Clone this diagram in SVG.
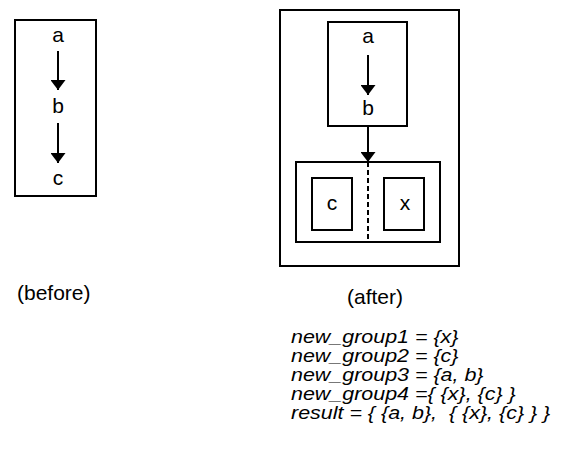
<svg xmlns="http://www.w3.org/2000/svg" width="571" height="454" viewBox="0 0 571 454">
  <style>
    .box { fill: none; stroke: #000; stroke-width: 2; }
    .edge { fill: none; stroke: #000; stroke-width: 2; }
    .dash { fill: none; stroke: #000; stroke-width: 2; stroke-dasharray: 5 3; }
    .lbl { font-family: "Liberation Sans", Arial, sans-serif; font-size: 21px; fill: #000; text-anchor: middle; }
    .cap { font-family: "Liberation Sans", Arial, sans-serif; font-size: 21px; fill: #000; }
    .eq { font-family: "Liberation Sans", Arial, sans-serif; font-size: 18.5px; font-style: italic; fill: #000; }
  </style>
  <defs>
    <marker id="arrow" viewBox="0 0 10 15" refX="10" refY="7.5" markerWidth="10" markerHeight="15" markerUnits="userSpaceOnUse" orient="auto">
      <path d="M0,0 L10,7.5 L0,15 z" fill="#000"/>
    </marker>
  </defs>

  <!-- before: single group containing a -> b -> c -->
  <g id="before-group">
    <rect class="box" x="15" y="20" width="81" height="176"/>
    <text class="lbl" x="58" y="42">a</text>
    <text class="lbl" x="58" y="113">b</text>
    <text class="lbl" x="58" y="185">c</text>
  </g>

  <!-- after: outer result group -->
  <g id="result-group">
    <rect class="box" x="280" y="10" width="179" height="256"/>
  </g>
  <g id="new-group3">
    <rect class="box" x="328" y="22" width="79" height="104"/>
    <text class="lbl" x="368" y="43">a</text>
    <text class="lbl" x="368" y="115">b</text>
  </g>
  <g id="new-group4">
    <rect class="box" x="296" y="162" width="144" height="80"/>
  </g>
  <g id="new-group2">
    <rect class="box" x="312" y="178" width="40" height="52"/>
    <text class="lbl" x="332" y="210">c</text>
  </g>
  <g id="new-group1">
    <rect class="box" x="384" y="178" width="40" height="52"/>
    <text class="lbl" x="405" y="210">x</text>
  </g>

  <g id="connectors">
    <line class="edge" x1="58" y1="51" x2="58" y2="90" marker-end="url(#arrow)"/>
    <line class="edge" x1="58" y1="123" x2="58" y2="163" marker-end="url(#arrow)"/>
    <line class="edge" x1="368" y1="55" x2="368" y2="95" marker-end="url(#arrow)"/>
    <line class="edge" x1="368" y1="126" x2="368" y2="162" marker-end="url(#arrow)"/>
    <line class="dash" x1="368" y1="162" x2="368" y2="242"/>
  </g>

  <text class="cap" x="17" y="300">(before)</text>
  <text class="cap" x="347" y="304">(after)</text>

  <!-- set definitions, drawn slightly wide -->
  <g id="equations" transform="translate(291,0) scale(1.16,1)">
    <text class="eq" x="0" y="343">new_group1 = {x}</text>
    <text class="eq" x="0" y="362">new_group2 = {c}</text>
    <text class="eq" x="0" y="381">new_group3 = {a, b}</text>
    <text class="eq" x="0" y="400">new_group4 ={ {x}, {c} }</text>
    <text class="eq" x="0" y="419" xml:space="preserve">result = { {a, b},  { {x}, {c} } }</text>
  </g>
</svg>
